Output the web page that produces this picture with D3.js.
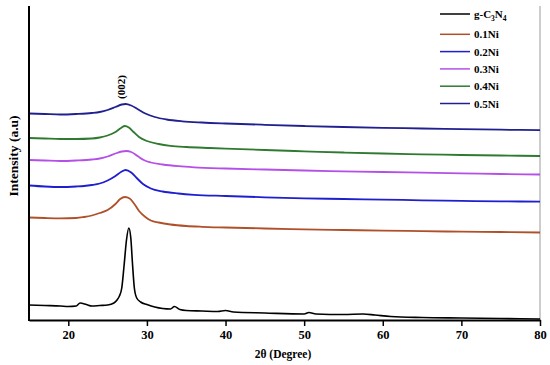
<!DOCTYPE html>
<html><head><meta charset="utf-8">
<script src="https://cdn.jsdelivr.net/npm/d3@7"></script>
<style>html,body{margin:0;padding:0;background:#fff;}svg{display:block;font-family:"Liberation Serif","Times New Roman",serif;}</style>
</head><body>
<svg id="c" width="550" height="365"></svg>
<script>
const seriesNames = ["g-C3N4","0.1Ni","0.2Ni","0.3Ni","0.4Ni","0.5Ni"];
const seriesColors = ["#000000","#b0502a","#1f1fd0","#b44fe8","#2f7a2f","#202090"];
const xTicks = [20,30,40,50,60,70,80];

const angleBlack = [15,17,19,20,21,21.5,22.3,23,24,25,25.8,26.2,26.5,26.8,27.1,27.4,27.7,27.95,28.15,28.4,28.7,29.2,30,31,32,33,33.5,34.2,35,37,39,40,41,45,50,50.6,51.5,55,57.5,59,61,65,70,75,80];
const intBlack   = [15,14.5,14,13.5,14,17,15.5,14,14.5,15,17,20,24,32,55,80,92,82,58,32,22,18,15.5,13,11.5,11,13.5,10.5,9.5,9,8.5,9.5,8,7,6,7.5,6,5.5,6,5,3.5,2.5,2,1.5,1];

const angle01 = [15,17,19,21,22,23,24,25,26,26.6,27.2,27.8,28.4,29,29.8,30.5,31.5,33,35,37,40,45,50,55,60,65,70,75,80];
const int01   = [102.5,102,101.7,102,103,104.5,107,110,116,121,123,121.5,116,109,103,99.5,97.5,95.5,94,93.2,92.5,91.5,90.7,90,89.4,88.8,88.3,88,87.5];

const angle02 = [15,17,19,21,22,23,24,25,26,26.7,27.3,28,28.7,29.5,30.5,32,34,36,40,45,50,55,60,65,70,75,80];
const int02   = [134.5,133.5,133,133.5,134,135,136.5,139.5,144,148,150,147.5,142,136,131.5,128.5,126.5,125.2,124,122.7,121.7,121,120.4,119.7,119.1,118.7,118.3];

const angle03 = [15,17,19,21,23,24,25,26,26.8,27.4,28,28.8,29.6,30.5,32,34,36,40,45,50,55,60,65,70,75,80];
const int03   = [160,159.5,159,159.5,160.5,161.5,163.5,166.5,168.5,169,168,164,160,157.5,155.5,153.8,152.7,151.5,150.5,149.5,148.7,148,147.3,146.7,146,145.5];

const angle04 = [15,17,19,21,23,24,25,26,26.7,27.2,27.7,28.3,29,30,31.5,33,35,38,40,45,50,55,60,65,70,75,80];
const int04   = [182,181.5,181,181,181.5,182.5,184.5,188,192,194,192.5,188,183,179,176,174.2,173,172,171.4,170,168.7,167.5,166.5,165.7,165,164.5,164];

const angle05 = [15,17,19,21,23,24,25,26,26.8,27.3,28,28.8,29.8,31,32.5,34.5,37,40,45,50,55,60,65,70,75,80];
const int05   = [206.5,206,205.5,206,207,208,210,213,215.5,216,214.5,211,206.5,203,200.5,198.7,197.5,196.5,195.2,194,193,192.2,191.5,190.8,190.3,189.8];

const peakLabel = "(002)";
const peakAngle = 27.3;
const peakLabelIntensity = 221;

const allAngles = [angleBlack, angle01, angle02, angle03, angle04, angle05];
const allInts = [intBlack, int01, int02, int03, int04, int05];

const svg = d3.select("#c");
const x = d3.scaleLinear().domain([15,80]).range([29,540]);
const y = d3.scaleLinear().domain([0,314]).range([320,6]);

// right spine (thin gray)
svg.append("line").attr("x1",540).attr("x2",540).attr("y1",6).attr("y2",320)
  .attr("stroke","#9a9a9a").attr("stroke-width",1);

const line = d3.line().x(d=>x(d[0])).y(d=>y(d[1])).curve(d3.curveMonotoneX);
allAngles.forEach((a,i)=>{
  const pts = a.map((v,j)=>[v, allInts[i][j]]);
  svg.append("path").datum(pts).attr("d",line).attr("fill","none")
    .attr("stroke",seriesColors[i]).attr("stroke-width", i===0?1.6:1.8)
    .attr("stroke-linejoin","round");
});

// x axis
const xAxis = d3.axisBottom(x).tickValues(xTicks).tickSize(6).tickPadding(4).tickSizeOuter(0);
const gx = svg.append("g").attr("transform","translate(0,320)").call(xAxis);
gx.select(".domain").attr("stroke","#000").attr("stroke-width",2);
gx.selectAll(".tick line").attr("stroke","#000").attr("stroke-width",1.5);
gx.selectAll(".tick text").attr("fill","#000").style("font-family","Liberation Serif, serif")
  .style("font-weight","bold").style("font-size","12.5px");

// left axis line
svg.append("line").attr("x1",29).attr("x2",29).attr("y1",6).attr("y2",321)
  .attr("stroke","#000").attr("stroke-width",2);

// axis titles
svg.append("text").attr("x",283).attr("y",358).attr("text-anchor","middle")
  .style("font-weight","bold").style("font-size","11.5px").text("2θ (Degree)");
svg.append("text").attr("transform","translate(18,156) rotate(-90)").attr("text-anchor","middle")
  .style("font-weight","bold").style("font-size","13.5px").text("Intensity (a.u)");

// peak label
svg.append("text").attr("transform",`translate(${x(peakAngle)-1},${y(peakLabelIntensity)}) rotate(-90)`)
  .attr("text-anchor","start").style("font-weight","bold").style("font-size","11px").text(peakLabel);

// legend
const lg = svg.append("g");
seriesNames.forEach((n,i)=>{
  const ly = i===0 ? 14 : 17 + i*17.3;
  lg.append("line").attr("x1",440).attr("x2",470).attr("y1",ly).attr("y2",ly)
    .attr("stroke",seriesColors[i]).attr("stroke-width",1.5);
  const t = lg.append("text").attr("x",474).attr("y",ly+4)
    .style("font-weight","bold").style("font-size","11px");
  if(i===0){
    t.append("tspan").text("g-C");
    t.append("tspan").attr("dy",3).style("font-size","7.5px").text("3");
    t.append("tspan").attr("dy",-3).text("N");
    t.append("tspan").attr("dy",3).style("font-size","7.5px").text("4");
  } else t.text(n);
});
</script>
</body></html>
